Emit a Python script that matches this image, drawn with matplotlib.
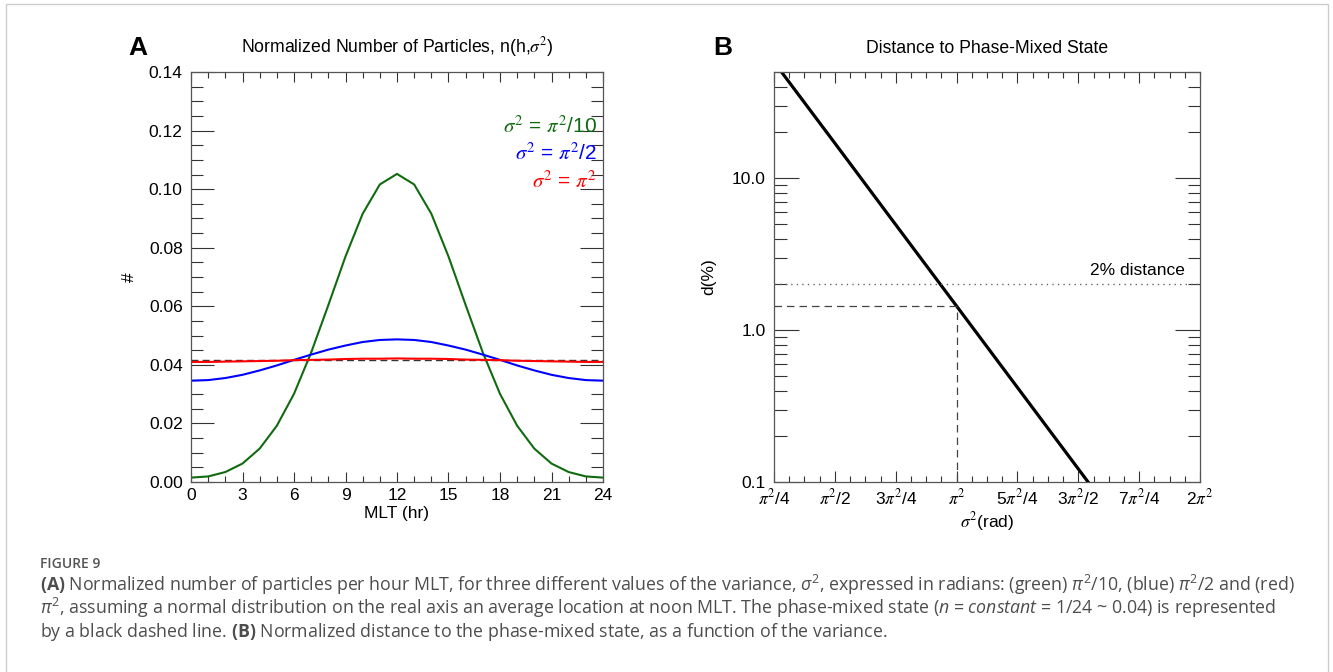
import numpy as np
import matplotlib
matplotlib.use("Agg")
import matplotlib.pyplot as plt
from matplotlib.patches import Rectangle
from matplotlib.ticker import MultipleLocator, FixedLocator, LogLocator, NullFormatter

plt.rcParams['font.family'] = ['Liberation Sans', 'DejaVu Sans']
plt.rcParams['mathtext.fontset'] = 'custom'
plt.rcParams['mathtext.rm'] = 'Open Sans'
plt.rcParams['mathtext.it'] = 'Open Sans:italic'
plt.rcParams['mathtext.bf'] = 'Open Sans:bold'

# panel A: normalized number of particles per hour MLT
hours = list(range(25))
n_green = [0.0015, 0.0019, 0.0034, 0.0063, 0.0114, 0.0192, 0.0301, 0.0442, 0.0604,
           0.0770, 0.0916, 0.1016, 0.1052, 0.1016, 0.0916, 0.0770, 0.0604, 0.0442,
           0.0301, 0.0192, 0.0114, 0.0063, 0.0034, 0.0019, 0.0015]
n_blue = [0.0346, 0.0348, 0.0355, 0.0366, 0.0381, 0.0398, 0.0417, 0.0435, 0.0452,
          0.0466, 0.0478, 0.0485, 0.0487, 0.0485, 0.0478, 0.0466, 0.0452, 0.0435,
          0.0417, 0.0398, 0.0381, 0.0366, 0.0355, 0.0348, 0.0346]
n_red = [0.0410, 0.0410, 0.0411, 0.0412, 0.0413, 0.0414, 0.0416, 0.0417, 0.0418,
         0.0420, 0.0421, 0.0421, 0.0422, 0.0421, 0.0421, 0.0420, 0.0418, 0.0417,
         0.0416, 0.0414, 0.0413, 0.0412, 0.0411, 0.0410, 0.0410]
n_mixed = 0.0417
legend_labels = [r'$\sigma^2$ = $\pi^2$/10', r'$\sigma^2$ = $\pi^2$/2', r'$\sigma^2$ = $\pi^2$']
legend_colors = ['#106b10', '#0000ff', '#ff0000']

# panel B: distance to phase-mixed state (sigma^2 in units of pi^2)
sig2_pi2 = [0.25, 0.5, 0.75, 1.0, 1.25, 1.5, 1.75, 2.0]
dist_pct = [58.2, 17.0, 4.94, 1.44, 0.419, 0.122, 0.0355, 0.0103]
sig2_mark = 1.0
dist_mark = 1.44
dist_thresh = 2.0
b_xticklabels = [r'$\pi^2$/4', r'$\pi^2$/2', r'3$\pi^2$/4', r'$\pi^2$',
                 r'5$\pi^2$/4', r'3$\pi^2$/2', r'7$\pi^2$/4', r'2$\pi^2$']

W, H = 1333, 672
fig = plt.figure(figsize=(W / 100, H / 100), dpi=100)
fig.patch.set_facecolor('white')

def px_axes(l, r, t, b):
    return [l / W, 1 - b / H, (r - l) / W, (b - t) / H]

spine_c = '#555555'
tick_fs = 12.5

def style_axes(ax, ymaj, ymin, xmaj, xmin):
    for s in ax.spines.values():
        s.set_color(spine_c)
        s.set_linewidth(0.9)
    ax.tick_params(which='both', direction='in', top=True, right=True, colors='#333333',
                   width=0.8, labelsize=tick_fs, labelcolor='black')
    ax.tick_params(axis='y', which='major', length=ymaj, pad=6)
    ax.tick_params(axis='y', which='minor', length=ymin)
    ax.tick_params(axis='x', which='major', length=xmaj, pad=4)
    ax.tick_params(axis='x', which='minor', length=xmin)

# ---- panel A
ax0 = fig.add_axes(px_axes(191, 603, 72, 482))
ax0.plot(hours, n_green, color=legend_colors[0], lw=1.5)
ax0.plot(hours, n_blue, color=legend_colors[1], lw=1.5)
ax0.axhline(n_mixed, color='#333333', lw=1.0, dashes=(5, 3))
ax0.plot(hours, n_red, color=legend_colors[2], lw=1.5)
ax0.set_xlim(0, 24)
ax0.set_ylim(0, 0.14)
ax0.xaxis.set_major_locator(MultipleLocator(3))
ax0.xaxis.set_minor_locator(MultipleLocator(1))
ax0.yaxis.set_major_locator(MultipleLocator(0.02))
ax0.yaxis.set_minor_locator(MultipleLocator(0.005))
ax0.yaxis.set_major_formatter(matplotlib.ticker.FormatStrFormatter('%.2f'))
style_axes(ax0, 16.5, 8.5, 7, 4)
ax0.set_title(r'Normalized Number of Particles, n(h,$\sigma^2$)', fontsize=12.7,
              pad=14, math_fontfamily='stix')
ax0.set_xlabel('MLT (hr)', fontsize=12.5)
ax0.xaxis.set_label_coords(0.5, -0.058)
ax0.set_ylabel('#', fontsize=12.5)
ax0.yaxis.set_label_coords(-0.131, 0.5)
for lab, col, yy in zip(legend_labels, legend_colors, [0.869, 0.801, 0.733]):
    ax0.text(0.985, yy, lab, color=col, fontsize=15, ha='right', va='center',
             transform=ax0.transAxes, math_fontfamily='stix')

# ---- panel B
ax1 = fig.add_axes(px_axes(774, 1200, 72, 482))
pi2 = np.pi ** 2
sig2 = np.array(sig2_pi2) * pi2
ax1.plot(sig2, dist_pct, color='black', lw=2.3)
ax1.set_yscale('log')
ax1.set_xlim(pi2 / 4, 2 * pi2)
ax1.set_ylim(0.1, 50)
ax1.axhline(dist_thresh, color='#666666', lw=1.0, ls=(0, (1, 3)))
ax1.plot([pi2 / 4, sig2_mark * pi2], [dist_mark, dist_mark], color='#444444', lw=0.9,
         dashes=(6, 4))
ax1.plot([sig2_mark * pi2, sig2_mark * pi2], [0.1, dist_mark], color='#444444', lw=0.9,
         dashes=(6, 4))
ax1.xaxis.set_major_locator(FixedLocator(np.arange(1, 9) * pi2 / 4))
ax1.xaxis.set_minor_locator(MultipleLocator(pi2 / 16))
ax1.set_xticklabels(b_xticklabels, math_fontfamily='stix', fontsize=13)
ax1.yaxis.set_major_locator(FixedLocator([0.1, 1.0, 10.0]))
ax1.yaxis.set_minor_locator(LogLocator(base=10, subs=np.arange(2, 10)))
ax1.yaxis.set_minor_formatter(NullFormatter())
ax1.set_yticklabels(['0.1', '1.0', '10.0'])
style_axes(ax1, 18, 9, 8, 4)
ax1.set_title('Distance to Phase-Mixed State', fontsize=12.7, pad=14)
ax1.set_xlabel(r'$\sigma^2$(rad)', fontsize=12.5, math_fontfamily='stix')
ax1.xaxis.set_label_coords(0.5, -0.068)
ax1.set_ylabel('d(%)', fontsize=12.5)
ax1.yaxis.set_label_coords(-0.136, 0.5)
ax1.text(0.965, 2.45, '2% distance', fontsize=12.5, ha='right', va='center',
         transform=ax1.get_yaxis_transform())

fig.text(128 / W, 1 - 48 / H, 'A', fontsize=19, weight='bold', va='center')
fig.text(713 / W, 1 - 48 / H, 'B', fontsize=19, weight='bold', va='center')

# ---- caption
cap_c = '#4d4d4d'
cap_fs = 12.8
fig.text(40 / W, 1 - 568 / H, 'FIGURE 9', fontsize=10, color='#555555',
         family='Open Sans', weight='semibold', va='baseline')
cap_lines = [
    r'$\mathbf{(A)}$ Normalized number of particles per hour MLT, for three different values of the variance, $\sigma^2$, expressed in radians: (green) $\pi^2$/10, (blue) $\pi^2$/2 and (red)',
    r'$\pi^2$, assuming a normal distribution on the real axis an average location at noon MLT. The phase-mixed state ($n$ = $constant$ = 1/24 ~ 0.04) is represented',
    r'by a black dashed line. $\mathbf{(B)}$ Normalized distance to the phase-mixed state, as a function of the variance.',
]
for line, yb in zip(cap_lines, [591, 614, 637]):
    fig.text(40 / W, 1 - yb / H, line, fontsize=cap_fs, color=cap_c, family='Open Sans',
             va='baseline', math_fontfamily='custom')

fig.patches.append(Rectangle((6 / W, -0.02), (1328 - 6) / W, 1 - 4 / H + 0.02, fill=False,
                             ec='#cccccc', lw=1.0, transform=fig.transFigure))

fig.savefig('out.png', dpi=100)
